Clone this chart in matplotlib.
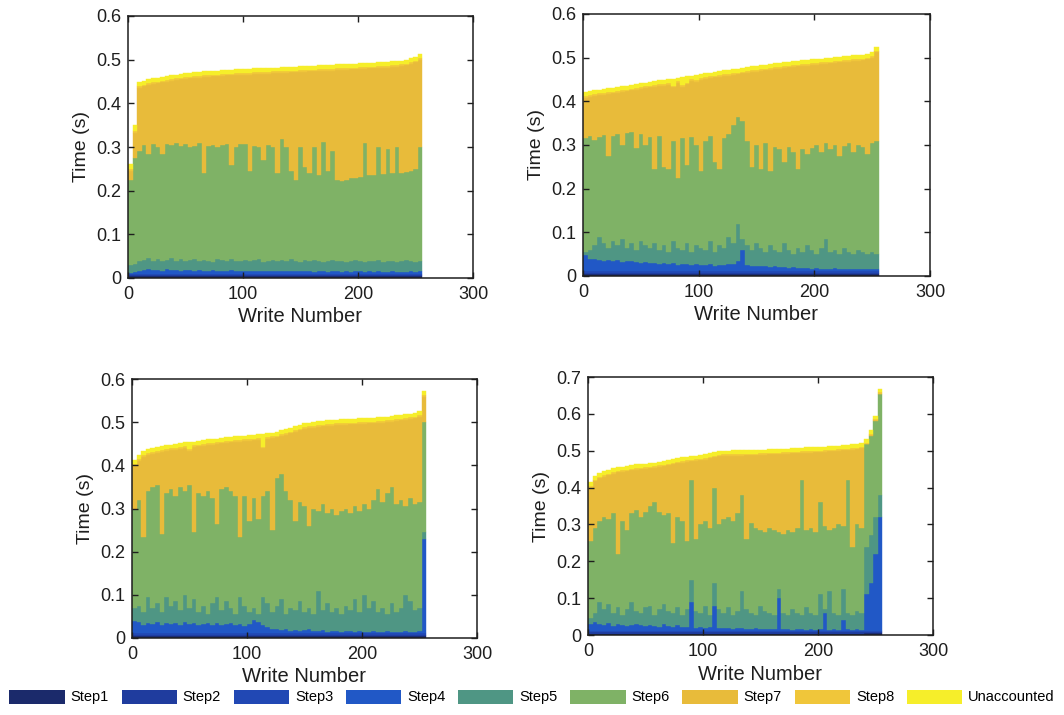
import numpy as np
import matplotlib
matplotlib.use("Agg")
import matplotlib.pyplot as plt
from matplotlib.patches import Patch

plt.rcParams["font.family"] = ["Liberation Sans", "DejaVu Sans"]

LAYER_NAMES = ["Step1", "Step2", "Step3", "Step4", "Step5", "Step6",
               "Step7", "Step8", "Unaccounted"]
LAYER_COLORS = ["#1b2a6b", "#1f3c9e", "#2148b4", "#2158c6", "#4f9684",
                "#7fb266", "#e8bb3a", "#f0c63a", "#f6ee2a"]
BIN_WIDTH = 4          # writes grouped into each bar
X_TICKS = [0, 100, 200, 300]

# ---------------- Panel 1 (times in ms, one value per bar) ----------------
P1_TOTAL = [262, 350, 449, 452, 455, 457, 459, 461, 463, 465, 466, 468, 469, 470, 471, 472,
            473, 474, 475, 475, 476, 477, 477, 478, 478, 479, 479, 480, 480, 481, 481, 482,
            482, 483, 483, 484, 484, 485, 485, 486, 486, 487, 487, 488, 488, 489, 489, 490,
            491, 491, 492, 492, 493, 493, 494, 494, 495, 496, 497, 498, 500, 503, 507, 513]
P1_GREEN_TOP = [225, 275, 290, 305, 285, 306, 300, 285, 308, 305, 310, 302, 306, 300, 303, 310,
                240, 302, 305, 300, 304, 306, 258, 300, 308, 306, 245, 303, 300, 270, 305, 300,
                240, 318, 300, 245, 225, 300, 255, 240, 300, 235, 312, 245, 290, 225, 222, 225,
                228, 230, 232, 310, 235, 236, 300, 238, 295, 240, 300, 240, 242, 245, 250, 300]
P1_TEAL_TOP = [30, 32, 38, 42, 45, 40, 44, 38, 42, 46, 40, 43, 39, 41, 44, 38,
               42, 40, 37, 43, 41, 39, 44, 40, 38, 42, 39, 41, 43, 37, 40, 42,
               38, 41, 39, 43, 40, 37, 41, 38, 42, 40, 36, 39, 41, 38, 40, 37,
               39, 42, 38, 36, 40, 38, 41, 37, 39, 40, 36, 38, 41, 39, 37, 40]
P1_BLUE_TOP = [12, 14, 16, 18, 20, 19, 18, 17, 20, 19, 18, 17, 19, 18, 17, 18,
               16, 17, 18, 17, 16, 17, 18, 16, 17, 16, 15, 17, 16, 15, 16, 17,
               15, 16, 15, 16, 17, 15, 16, 15, 14, 16, 15, 14, 15, 16, 14, 15,
               14, 15, 16, 14, 15, 14, 15, 14, 13, 15, 14, 13, 14, 15, 14, 15]
P1_STEP1 = [4, 5, 5, 5, 5, 5, 5, 5, 5, 5, 5, 5, 5, 5, 5, 5,
            5, 5, 5, 5, 5, 5, 5, 5, 5, 5, 5, 5, 5, 5, 5, 5,
            5, 5, 5, 5, 5, 5, 5, 5, 5, 5, 5, 5, 5, 5, 5, 5,
            5, 5, 5, 5, 5, 5, 5, 5, 5, 5, 5, 5, 5, 5, 5, 5]
P1_STEP2 = [2, 2, 2, 2, 2, 2, 2, 2, 2, 2, 2, 2, 2, 2, 2, 2,
            2, 2, 2, 2, 2, 2, 2, 2, 2, 2, 2, 2, 2, 2, 2, 2,
            2, 2, 2, 2, 2, 2, 2, 2, 2, 2, 2, 2, 2, 2, 2, 2,
            2, 2, 2, 2, 2, 2, 2, 2, 2, 2, 2, 2, 2, 2, 2, 2]
P1_STEP3 = [3, 3, 3, 3, 3, 3, 3, 3, 3, 3, 3, 3, 3, 3, 3, 3,
            3, 3, 3, 3, 3, 3, 3, 3, 3, 3, 3, 3, 3, 3, 3, 3,
            3, 3, 3, 3, 3, 3, 3, 3, 3, 3, 3, 3, 3, 3, 3, 3,
            3, 3, 3, 3, 3, 3, 3, 3, 3, 3, 3, 3, 3, 3, 3, 3]
P1_STEP8 = [4, 4, 4, 4, 4, 4, 4, 4, 4, 4, 4, 4, 4, 4, 4, 4,
            4, 4, 4, 4, 4, 4, 4, 4, 4, 4, 4, 4, 4, 4, 4, 4,
            4, 4, 4, 4, 4, 4, 4, 4, 4, 4, 4, 4, 4, 4, 4, 4,
            4, 4, 4, 4, 4, 4, 4, 4, 4, 4, 4, 4, 4, 4, 4, 4]
P1_UNACC = [12, 14, 9, 9, 9, 9, 9, 9, 9, 9, 9, 9, 9, 9, 9, 9,
            9, 9, 9, 9, 9, 9, 9, 9, 9, 9, 9, 9, 9, 9, 9, 9,
            9, 9, 9, 9, 9, 9, 9, 9, 9, 9, 9, 9, 9, 9, 9, 9,
            9, 9, 9, 9, 9, 9, 9, 9, 9, 9, 9, 9, 9, 9, 9, 9]

# ---------------- Panel 2 ----------------
P2_TOTAL = [421, 423, 425, 427, 428, 430, 431, 433, 434, 436, 438, 440, 442, 443, 445, 446,
            448, 449, 451, 452, 454, 455, 457, 459, 461, 462, 464, 466, 468, 469, 471, 472,
            474, 475, 477, 478, 480, 481, 483, 484, 485, 487, 488, 490, 491, 492, 493, 494,
            495, 496, 497, 498, 499, 500, 501, 502, 503, 504, 505, 506, 507, 509, 512, 525]
P2_GREEN_TOP = [315, 320, 312, 318, 322, 275, 320, 325, 300, 328, 330, 292, 325, 300, 318, 245,
                320, 250, 245, 310, 225, 315, 255, 318, 300, 240, 310, 320, 260, 245, 315, 325,
                345, 365, 355, 310, 250, 300, 245, 305, 240, 295, 290, 260, 295, 285, 245, 290,
                280, 292, 300, 285, 305, 290, 300, 275, 298, 305, 285, 300, 295, 280, 305, 310]
P2_TEAL_TOP = [55, 60, 70, 90, 75, 65, 80, 70, 85, 65, 75, 60, 80, 70, 65, 75,
               60, 70, 55, 80, 65, 60, 75, 55, 70, 65, 60, 80, 55, 70, 65, 90,
               75, 120, 85, 70, 60, 75, 65, 55, 70, 60, 55, 75, 60, 50, 65, 55,
               70, 60, 50, 65, 85, 55, 60, 50, 65, 55, 50, 60, 55, 50, 55, 50]
P2_BLUE_TOP = [48, 40, 38, 36, 35, 37, 34, 36, 33, 35, 34, 32, 30, 32, 29, 30,
               28, 30, 27, 29, 26, 28, 27, 25, 27, 26, 25, 27, 24, 26, 25, 27,
               28, 35, 60, 25, 24, 23, 22, 24, 21, 22, 20, 21, 19, 20, 18, 19,
               18, 17, 18, 17, 16, 17, 18, 16, 17, 16, 15, 16, 17, 15, 16, 15]
P2_STEP1 = [5, 5, 5, 5, 5, 5, 5, 5, 5, 5, 5, 5, 5, 5, 5, 5,
            5, 5, 5, 5, 5, 5, 5, 5, 5, 5, 5, 5, 5, 5, 5, 5,
            5, 5, 5, 5, 5, 5, 5, 5, 5, 5, 5, 5, 5, 5, 5, 5,
            5, 5, 5, 5, 5, 5, 5, 5, 5, 5, 5, 5, 5, 5, 5, 5]
P2_STEP2 = [3, 3, 3, 3, 3, 3, 3, 3, 3, 3, 3, 3, 3, 3, 3, 3,
            3, 3, 3, 3, 3, 3, 3, 3, 3, 3, 3, 3, 3, 3, 3, 3,
            3, 3, 3, 3, 3, 3, 3, 3, 3, 3, 3, 3, 3, 3, 3, 3,
            3, 3, 3, 3, 3, 3, 3, 3, 3, 3, 3, 3, 3, 3, 3, 3]
P2_STEP3 = [3, 3, 3, 3, 3, 3, 3, 3, 3, 3, 3, 3, 3, 3, 3, 3,
            3, 3, 3, 3, 3, 3, 3, 3, 3, 3, 3, 3, 3, 3, 3, 3,
            3, 3, 3, 3, 3, 3, 3, 3, 3, 3, 3, 3, 3, 3, 3, 3,
            3, 3, 3, 3, 3, 3, 3, 3, 3, 3, 3, 3, 3, 3, 3, 3]
P2_STEP8 = [4, 4, 4, 4, 4, 4, 4, 4, 4, 4, 4, 4, 4, 4, 4, 4,
            4, 4, 4, 4, 4, 4, 4, 4, 4, 4, 4, 4, 4, 4, 4, 4,
            4, 4, 4, 4, 4, 4, 4, 4, 4, 4, 4, 4, 4, 4, 4, 4,
            4, 4, 4, 4, 4, 4, 4, 4, 4, 4, 4, 4, 4, 4, 4, 4]
P2_UNACC = [9, 9, 9, 9, 9, 9, 9, 9, 9, 9, 9, 9, 9, 9, 9, 9,
            9, 9, 9, 16, 8, 18, 14, 8, 12, 9, 9, 9, 9, 9, 9, 9,
            9, 9, 9, 9, 9, 9, 9, 9, 9, 9, 9, 9, 9, 9, 9, 9,
            9, 9, 9, 9, 9, 9, 9, 9, 9, 9, 9, 9, 9, 9, 9, 9]

# ---------------- Panel 3 ----------------
P3_TOTAL = [412, 425, 433, 437, 440, 442, 444, 446, 448, 449, 451, 453, 454, 455, 457, 458,
            460, 461, 462, 464, 465, 466, 467, 468, 469, 470, 471, 472, 473, 474, 476, 478,
            481, 484, 487, 490, 494, 497, 499, 500, 502, 503, 504, 505, 506, 507, 507, 508,
            508, 509, 509, 510, 510, 511, 512, 513, 514, 516, 517, 518, 520, 522, 525, 572]
P3_GREEN_TOP = [300, 320, 235, 340, 350, 355, 240, 335, 345, 330, 350, 340, 355, 245, 335, 330,
                340, 325, 265, 345, 350, 340, 330, 235, 330, 270, 325, 275, 330, 340, 250, 370,
                380, 340, 320, 270, 315, 305, 260, 300, 295, 310, 290, 300, 285, 295, 300, 290,
                305, 295, 310, 300, 320, 345, 315, 335, 350, 310, 320, 305, 325, 310, 315, 500]
P3_TEAL_TOP = [70, 75, 60, 95, 70, 80, 60, 95, 75, 85, 65, 100, 70, 90, 60, 75,
               55, 80, 95, 65, 85, 70, 55, 95, 75, 60, 70, 55, 95, 80, 60, 75,
               90, 55, 70, 65, 85, 60, 70, 55, 110, 65, 80, 60, 70, 55, 75, 65,
               90, 60, 100, 70, 85, 60, 70, 55, 80, 60, 70, 100, 85, 65, 70, 245]
P3_BLUE_TOP = [40, 38, 30, 35, 32, 36, 30, 34, 33, 35, 30, 36, 32, 34, 30, 33,
               35, 31, 34, 30, 32, 35, 30, 33, 28, 32, 42, 38, 30, 25, 22, 20,
               18, 22, 17, 19, 16, 18, 20, 17, 16, 18, 15, 17, 16, 15, 17, 16,
               15, 16, 14, 15, 16, 14, 15, 16, 14, 15, 14, 16, 15, 14, 16, 230]
P3_STEP1 = [5, 5, 5, 5, 5, 5, 5, 5, 5, 5, 5, 5, 5, 5, 5, 5,
            5, 5, 5, 5, 5, 5, 5, 5, 5, 5, 5, 5, 5, 5, 5, 5,
            5, 5, 5, 5, 5, 5, 5, 5, 5, 5, 5, 5, 5, 5, 5, 5,
            5, 5, 5, 5, 5, 5, 5, 5, 5, 5, 5, 5, 5, 5, 5, 5]
P3_STEP2 = [3, 3, 3, 3, 3, 3, 3, 3, 3, 3, 3, 3, 3, 3, 3, 3,
            3, 3, 3, 3, 3, 3, 3, 3, 3, 3, 3, 3, 3, 3, 3, 3,
            3, 3, 3, 3, 3, 3, 3, 3, 3, 3, 3, 3, 3, 3, 3, 3,
            3, 3, 3, 3, 3, 3, 3, 3, 3, 3, 3, 3, 3, 3, 3, 3]
P3_STEP3 = [3, 3, 3, 3, 3, 3, 3, 3, 3, 3, 3, 3, 3, 3, 3, 3,
            3, 3, 3, 3, 3, 3, 3, 3, 3, 3, 3, 3, 3, 3, 3, 3,
            3, 3, 3, 3, 3, 3, 3, 3, 3, 3, 3, 3, 3, 3, 3, 3,
            3, 3, 3, 3, 3, 3, 3, 3, 3, 3, 3, 3, 3, 3, 3, 3]
P3_STEP8 = [4, 4, 4, 4, 4, 4, 4, 4, 4, 4, 4, 4, 4, 4, 4, 4,
            4, 4, 4, 4, 4, 4, 4, 4, 4, 4, 4, 4, 4, 4, 4, 4,
            4, 4, 4, 4, 4, 4, 4, 4, 4, 4, 4, 4, 4, 4, 4, 4,
            4, 4, 4, 4, 4, 4, 4, 4, 4, 4, 4, 4, 4, 4, 4, 4]
P3_UNACC = [10, 10, 9, 9, 9, 9, 9, 9, 9, 9, 9, 9, 16, 9, 9, 9,
            9, 9, 9, 9, 9, 9, 9, 9, 9, 9, 9, 9, 30, 9, 9, 9,
            9, 9, 9, 9, 9, 9, 9, 9, 9, 9, 9, 9, 9, 9, 9, 9,
            9, 9, 9, 9, 9, 9, 9, 9, 9, 9, 9, 9, 9, 9, 9, 9]

# ---------------- Panel 4 ----------------
P4_TOTAL = [415, 432, 440, 444, 448, 452, 455, 457, 459, 461, 463, 464, 465, 467, 468, 470,
            472, 475, 478, 480, 482, 484, 486, 487, 488, 490, 493, 496, 499, 500, 500, 501,
            501, 501, 502, 502, 502, 503, 503, 504, 505, 505, 506, 506, 507, 507, 508, 509,
            509, 510, 510, 511, 512, 513, 514, 515, 516, 517, 518, 521, 532, 555, 595, 668]
P4_GREEN_TOP = [255, 290, 310, 320, 315, 330, 220, 310, 285, 330, 340, 320, 335, 350, 360, 335,
                325, 330, 250, 320, 310, 255, 420, 260, 300, 310, 290, 400, 300, 315, 320, 310,
                330, 380, 260, 305, 290, 285, 280, 290, 285, 280, 275, 285, 280, 290, 420, 285,
                290, 280, 360, 295, 285, 290, 300, 295, 420, 240, 300, 290, 518, 541, 581, 654]
P4_TEAL_TOP = [45, 60, 90, 70, 85, 60, 75, 55, 70, 90, 65, 60, 75, 80, 55, 70,
               85, 65, 60, 75, 55, 70, 150, 65, 60, 80, 55, 140, 70, 60, 75, 55,
               65, 120, 70, 60, 55, 80, 65, 60, 55, 125, 60, 55, 70, 60, 55, 75,
               60, 55, 110, 70, 120, 60, 55, 125, 60, 55, 65, 60, 240, 270, 320, 380]
P4_BLUE_TOP = [30, 35, 30, 28, 32, 25, 30, 27, 25, 28, 30, 26, 24, 27, 25, 22,
               30, 24, 22, 26, 23, 21, 90, 20, 22, 19, 21, 80, 20, 18, 19, 17,
               18, 20, 17, 16, 18, 16, 17, 15, 16, 100, 15, 16, 14, 15, 16, 14,
               15, 14, 16, 60, 14, 15, 14, 40, 15, 14, 15, 14, 110, 140, 220, 320]
P4_STEP1 = [4, 4, 4, 4, 4, 4, 4, 4, 4, 4, 4, 4, 4, 4, 4, 4,
            4, 4, 4, 4, 4, 4, 4, 4, 4, 4, 4, 4, 4, 4, 4, 4,
            4, 4, 4, 4, 4, 4, 4, 4, 4, 4, 4, 4, 4, 4, 4, 4,
            4, 4, 4, 4, 4, 4, 4, 4, 4, 4, 4, 4, 5, 5, 5, 5]
P4_STEP2 = [3, 3, 3, 3, 3, 3, 3, 3, 3, 3, 3, 3, 3, 3, 3, 3,
            3, 3, 3, 3, 3, 3, 3, 3, 3, 3, 3, 3, 3, 3, 3, 3,
            3, 3, 3, 3, 3, 3, 3, 3, 3, 3, 3, 3, 3, 3, 3, 3,
            3, 3, 3, 3, 3, 3, 3, 3, 3, 3, 3, 3, 3, 3, 3, 3]
P4_STEP3 = [3, 3, 3, 3, 3, 3, 3, 3, 3, 3, 3, 3, 3, 3, 3, 3,
            3, 3, 3, 3, 3, 3, 3, 3, 3, 3, 3, 3, 3, 3, 3, 3,
            3, 3, 3, 3, 3, 3, 3, 3, 3, 3, 3, 3, 3, 3, 3, 3,
            3, 3, 3, 3, 3, 3, 3, 3, 3, 3, 3, 3, 3, 3, 3, 3]
P4_STEP8 = [4, 4, 4, 4, 4, 4, 4, 4, 4, 4, 4, 4, 4, 4, 4, 4,
            4, 4, 4, 4, 4, 4, 4, 4, 4, 4, 4, 4, 4, 4, 4, 4,
            4, 4, 4, 4, 4, 4, 4, 4, 4, 4, 4, 4, 4, 4, 4, 4,
            4, 4, 4, 4, 4, 4, 4, 4, 4, 4, 4, 4, 3, 3, 3, 3]
P4_UNACC = [12, 11, 10, 10, 10, 10, 10, 10, 10, 10, 10, 10, 10, 10, 10, 10,
            10, 10, 10, 10, 10, 10, 10, 10, 10, 10, 10, 10, 10, 10, 10, 10,
            10, 10, 10, 10, 10, 10, 10, 10, 10, 10, 10, 10, 10, 10, 10, 10,
            10, 10, 10, 10, 10, 10, 10, 10, 10, 10, 10, 10, 10, 10, 10, 10]


def layer_stack(step1, step2, step3, blue_top, teal_top, green_top,
                step8, unacc, total):
    """Convert the read-off boundaries into per-step durations in seconds."""
    s1, s2, s3 = np.array(step1), np.array(step2), np.array(step3)
    blue, teal, green = np.array(blue_top), np.array(teal_top), np.array(green_top)
    s8, un, tot = np.array(step8), np.array(unacc), np.array(total)
    s4 = blue - s1 - s2 - s3
    s5 = teal - blue
    s6 = green - teal
    s7 = tot - un - s8 - green
    return [v / 1000.0 for v in (s1, s2, s3, s4, s5, s6, s7, s8, un)]


PANELS = [
    dict(data=layer_stack(P1_STEP1, P1_STEP2, P1_STEP3, P1_BLUE_TOP, P1_TEAL_TOP,
                          P1_GREEN_TOP, P1_STEP8, P1_UNACC, P1_TOTAL),
         rect=(128, 16, 473, 278), ymax=0.6),
    dict(data=layer_stack(P2_STEP1, P2_STEP2, P2_STEP3, P2_BLUE_TOP, P2_TEAL_TOP,
                          P2_GREEN_TOP, P2_STEP8, P2_UNACC, P2_TOTAL),
         rect=(583, 14, 930, 276), ymax=0.6),
    dict(data=layer_stack(P3_STEP1, P3_STEP2, P3_STEP3, P3_BLUE_TOP, P3_TEAL_TOP,
                          P3_GREEN_TOP, P3_STEP8, P3_UNACC, P3_TOTAL),
         rect=(132, 379, 477, 638), ymax=0.6),
    dict(data=layer_stack(P4_STEP1, P4_STEP2, P4_STEP3, P4_BLUE_TOP, P4_TEAL_TOP,
                          P4_GREEN_TOP, P4_STEP8, P4_UNACC, P4_TOTAL),
         rect=(588, 377, 933, 635), ymax=0.7),
]

W, H = 1064, 715
fig = plt.figure(figsize=(W / 100, H / 100), dpi=100)
INK = "#1e1e1e"

for panel in PANELS:
    x0, y0, x1, y1 = panel["rect"]
    ax = fig.add_axes([x0 / W, 1 - y1 / H, (x1 - x0) / W, (y1 - y0) / H])
    layers = panel["data"]
    x = np.arange(len(layers[0])) * BIN_WIDTH
    bottom = np.zeros(len(x))
    for vals, color in zip(layers, LAYER_COLORS):
        ax.bar(x, vals, width=BIN_WIDTH, bottom=bottom, align="edge",
               color=color, edgecolor=color, linewidth=0.3)
        bottom = bottom + vals

    ymax = panel["ymax"]
    yticks = np.round(np.arange(0, ymax + 0.001, 0.1), 1)
    ax.set_xlim(0, 300)
    ax.set_ylim(0, ymax)
    ax.set_xticks(X_TICKS)
    ax.set_xticklabels([str(t) for t in X_TICKS])
    ax.set_yticks(yticks)
    ax.set_yticklabels([f"{t:g}" for t in yticks])
    ax.tick_params(direction="in", top=True, right=True, length=4, width=1,
                   labelsize=13, colors=INK, labelcolor=INK)
    ax.tick_params(axis="x", pad=6)
    ax.tick_params(axis="y", pad=5)
    for spine in ax.spines.values():
        spine.set_linewidth(1.1)
        spine.set_color(INK)
    ax.set_xlabel("Write Number", fontsize=14.5, labelpad=3, color=INK)
    ax.set_ylabel("Time (s)", fontsize=14, labelpad=4, color=INK)

handles = [Patch(facecolor=c, edgecolor="none") for c in LAYER_COLORS]
fig.legend(handles, LAYER_NAMES, loc="center", bbox_to_anchor=(0.5, 1 - 697 / H),
           ncol=9, frameon=False, handlelength=3.8, handleheight=1.1,
           handletextpad=0.4, columnspacing=0.87, fontsize=10.5,
           borderaxespad=0, borderpad=0)

fig.savefig("out.png", dpi=100)
